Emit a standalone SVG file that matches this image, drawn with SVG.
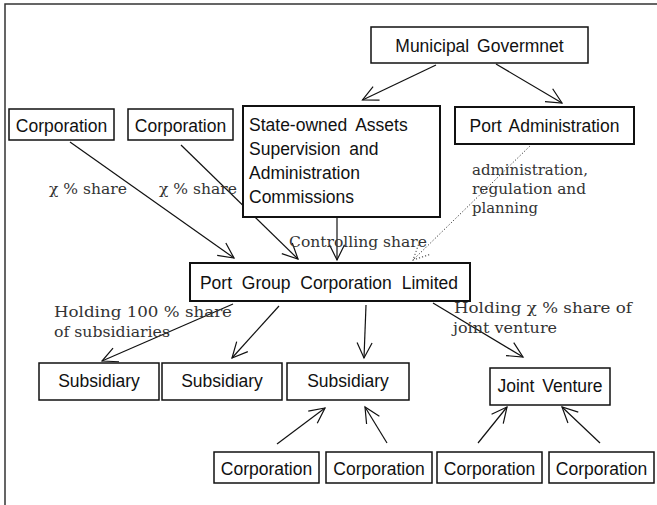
<svg xmlns="http://www.w3.org/2000/svg" width="657" height="505" viewBox="0 0 657 505">
<style>
.box{fill:#fff;stroke:#111;stroke-width:1.5}
.thick{stroke-width:2}
.bt{font-family:"Liberation Sans",Arial,sans-serif;font-size:17.5px;fill:#111}
.c{text-anchor:middle}
.lbl{font-family:"DejaVu Serif","Liberation Serif",serif;font-size:14.5px;fill:#333}
.edge{fill:none;stroke:#111;stroke-width:1.2;marker-end:url(#ah)}
.dot{fill:none;stroke:#333;stroke-width:1;stroke-dasharray:1.2 2;marker-end:url(#ahd)}
.frame{stroke:#333;stroke-width:1.5;fill:none}
</style>
<defs>
<marker id="ah" markerUnits="userSpaceOnUse" orient="auto" refX="0" refY="0" markerWidth="40" markerHeight="40" viewBox="-20 -20 40 40" overflow="visible">
<path d="M-15.3,-7.5 L0,0 L-15.3,7.5" fill="none" stroke="#111" stroke-width="1.2"/>
</marker>
<marker id="ahd" markerUnits="userSpaceOnUse" orient="auto" refX="0" refY="0" markerWidth="40" markerHeight="40" viewBox="-20 -20 40 40" overflow="visible">
<path d="M-15.3,-7.5 L0,0 L-15.3,7.5" fill="none" stroke="#333" stroke-width="1" stroke-dasharray="1.2 2"/>
</marker>
</defs>
<rect width="657" height="505" fill="#fff"/>
<path class="frame" d="M5,505 V4 H657"/>

<g id="connectors">
<line class="edge" x1="436" y1="65" x2="362.5" y2="100"/>
<line class="edge" x1="496" y1="64" x2="562" y2="103"/>
<line class="edge" x1="70" y1="142" x2="234" y2="258"/>
<line class="edge" x1="181" y1="145" x2="298" y2="259"/>
<line class="edge" x1="337" y1="217" x2="337" y2="260"/>
<line class="dot" x1="532" y1="144" x2="413" y2="260"/>
<line class="edge" x1="233" y1="304" x2="102" y2="361"/>
<line class="edge" x1="279" y1="306" x2="232" y2="358"/>
<line class="edge" x1="366" y1="305" x2="364" y2="358"/>
<line class="edge" x1="433" y1="303" x2="523" y2="357"/>
<line class="edge" x1="277" y1="444" x2="325" y2="408"/>
<line class="edge" x1="387" y1="443" x2="365" y2="407"/>
<line class="edge" x1="478" y1="443" x2="507" y2="407"/>
<line class="edge" x1="600" y1="443" x2="562" y2="407"/>
</g>

<g id="labels">
<text class="lbl" x="49" y="194" textLength="78" lengthAdjust="spacingAndGlyphs">χ % share</text>
<text class="lbl" x="159" y="194" textLength="78" lengthAdjust="spacingAndGlyphs">χ % share</text>
<text class="lbl" x="289" y="247" textLength="138" lengthAdjust="spacingAndGlyphs">Controlling share</text>
<text class="lbl" x="472" y="175" textLength="116" lengthAdjust="spacingAndGlyphs">administration,</text>
<text class="lbl" x="472" y="194" textLength="114" lengthAdjust="spacingAndGlyphs">regulation and</text>
<text class="lbl" x="472" y="213" textLength="66" lengthAdjust="spacingAndGlyphs">planning</text>
<text class="lbl" x="54" y="317" textLength="178" lengthAdjust="spacingAndGlyphs">Holding 100 % share</text>
<text class="lbl" x="54" y="337" textLength="116" lengthAdjust="spacingAndGlyphs">of subsidiaries</text>
<text class="lbl" x="454" y="313" textLength="178" lengthAdjust="spacingAndGlyphs">Holding χ % share of</text>
<text class="lbl" x="453" y="333" textLength="104" lengthAdjust="spacingAndGlyphs">joint venture</text>
</g>

<g id="municipal">
<rect class="box" x="371" y="27" width="217" height="36"/>
<text class="bt c" x="479.5" y="52" word-spacing="3">Municipal Govermnet</text>
</g>
<g id="port-admin">
<rect class="box thick" x="455" y="107" width="179" height="37"/>
<text class="bt c" x="544.5" y="132" word-spacing="3">Port Administration</text>
</g>
<g id="sasac">
<rect class="box thick" x="243" y="106" width="197" height="111"/>
<text class="bt" x="249" y="131" word-spacing="4">State-owned Assets</text>
<text class="bt" x="249" y="155" word-spacing="4">Supervision and</text>
<text class="bt" x="249" y="179">Administration</text>
<text class="bt" x="249" y="203">Commissions</text>
</g>
<g id="corp-1">
<rect class="box" x="9" y="109" width="105" height="31"/>
<text class="bt c" x="61.5" y="132">Corporation</text>
</g>
<g id="corp-2">
<rect class="box" x="128" y="109" width="105" height="31"/>
<text class="bt c" x="180.5" y="132">Corporation</text>
</g>
<g id="port-group">
<rect class="box thick" x="190" y="263" width="280" height="38"/>
<text class="bt c" x="329" y="289" word-spacing="5">Port Group Corporation Limited</text>
</g>
<g id="sub-1">
<rect class="box" x="39" y="363" width="120" height="37"/>
<text class="bt c" x="99" y="387">Subsidiary</text>
</g>
<g id="sub-2">
<rect class="box" x="162" y="363" width="120" height="37"/>
<text class="bt c" x="222" y="387">Subsidiary</text>
</g>
<g id="sub-3">
<rect class="box" x="287" y="363" width="122" height="37"/>
<text class="bt c" x="348" y="387">Subsidiary</text>
</g>
<g id="joint-venture">
<rect class="box" x="490" y="368" width="120" height="37"/>
<text class="bt c" x="550" y="392" word-spacing="3">Joint Venture</text>
</g>
<g id="corp-3">
<rect class="box" x="214" y="452" width="105" height="31"/>
<text class="bt c" x="266.5" y="475">Corporation</text>
</g>
<g id="corp-4">
<rect class="box" x="326" y="452" width="106" height="31"/>
<text class="bt c" x="379" y="475">Corporation</text>
</g>
<g id="corp-5">
<rect class="box" x="437" y="452" width="105" height="31"/>
<text class="bt c" x="489.5" y="475">Corporation</text>
</g>
<g id="corp-6">
<rect class="box" x="549" y="452" width="105" height="31"/>
<text class="bt c" x="601.5" y="475">Corporation</text>
</g>
</svg>
